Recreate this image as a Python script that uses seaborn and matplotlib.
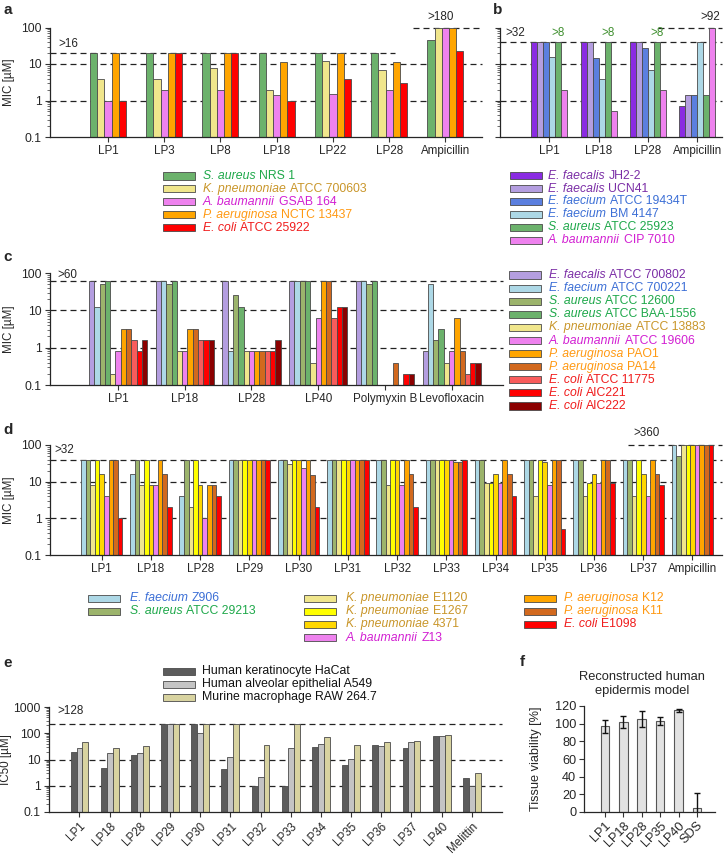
import numpy as np
import pandas as pd
import matplotlib
matplotlib.use("Agg")
import matplotlib.pyplot as plt
import seaborn as sns
from matplotlib.patches import Rectangle
from matplotlib.ticker import LogLocator, NullFormatter

nan = np.nan

# ---- panel a data (MIC, uM)
a_compounds = ["LP1", "LP3", "LP8", "LP18", "LP22", "LP28", "Ampicillin"]
a_strains = ["S. aureus NRS 1", "K. pneumoniae ATCC 700603", "A. baumannii GSAB 164",
             "P. aeruginosa NCTC 13437", "E. coli ATCC 25922"]
a_nrs1 = [20, 20, 20, 20, 20, 20, 45]
a_700603 = [4, 4, 8, 2, 12, 7, 100]
a_gsab164 = [1, 2, 2, 1.4, 1.5, 2, 100]
a_nctc13437 = [20, 20, 20, 11, 20, 11, 100]
a_25922 = [1, 20, 20, 1, 4, 3, 23]

# ---- panel b data
b_compounds = ["LP1", "LP18", "LP28", "Ampicillin"]
b_strains = ["E. faecalis JH2-2", "E. faecalis UCN41", "E. faecium ATCC 19434T",
             "E. faecium BM 4147", "S. aureus ATCC 25923", "A. baumannii CIP 7010"]
b_jh22 = [40, 40, 40, 0.7]
b_ucn41 = [40, 40, 40, 1.4]
b_19434t = [40, 15, 28, 1.4]
b_bm4147 = [16, 4, 7, 40]
b_25923 = [40, 40, 40, 1.4]
b_cip7010 = [2, 0.5, 2, 100]

# ---- panel c data
c_compounds = ["LP1", "LP18", "LP28", "LP40", "Polymyxin B", "Levofloxacin"]
c_strains = ["E. faecalis ATCC 700802", "E. faecium ATCC 700221", "S. aureus ATCC 12600",
             "S. aureus ATCC BAA-1556", "K. pneumoniae ATCC 13883", "A. baumannii ATCC 19606",
             "P. aeruginosa PAO1", "P. aeruginosa PA14", "E. coli ATCC 11775",
             "E. coli AIC221", "E. coli AIC222"]
c_700802 = [60, 60, 60, 60, 60, 0.8]
c_700221 = [12.5, 60, 0.8, 60, 60, 50]
c_12600 = [50, 50, 25, 60, 50, 1.6]
c_baa1556 = [60, 60, 12.5, 60, 60, 3.1]
c_13883 = [0.2, 0.8, 0.8, 0.4, nan, 0.4]
c_19606 = [0.8, 0.8, 0.8, 6.3, nan, 0.8]
c_pao1 = [3.1, 3.1, 0.8, 60, nan, 6.3]
c_pa14 = [3.1, 3.1, 0.8, 60, 0.4, 0.8]
c_11775 = [1.6, 1.6, 0.8, 6.3, nan, 0.2]
c_aic221 = [0.8, 1.6, 0.8, 12.5, 0.2, 0.4]
c_aic222 = [1.6, 1.6, 1.6, 12.5, 0.2, 0.4]

# ---- panel d data
d_compounds = ["LP1", "LP18", "LP28", "LP29", "LP30", "LP31", "LP32", "LP33", "LP34",
               "LP35", "LP36", "LP37", "Ampicillin"]
d_strains = ["E. faecium Z906", "S. aureus ATCC 29213", "K. pneumoniae E1120",
             "K. pneumoniae E1267", "K. pneumoniae 4371", "A. baumannii Z13",
             "P. aeruginosa K12", "P. aeruginosa K11", "E. coli E1098"]
d_z906 = [40, 16, 4, 40, 40, 40, 40, 40, 40, 40, 40, 40, 100]
d_29213 = [40, 40, 40, 40, 40, 40, 40, 40, 40, 40, 40, 40, 50]
d_e1120 = [8, 8, 2, 40, 30, 40, 8, 40, 9, 4, 4, 4, 100]
d_e1267 = [40, 40, 40, 40, 40, 40, 40, 40, 9, 40, 9, 40, 100]
d_4371 = [16, 8, 8, 40, 40, 40, 40, 40, 16, 34, 16, 16, 100]
d_z13 = [4, 8, 1, 40, 23, 40, 8, 40, 9, 8, 9, 4, 100]
d_k12 = [40, 40, 8, 40, 40, 40, 40, 34, 40, 40, 40, 40, 100]
d_k11 = [40, 16, 8, 40, 15, 40, 16, 34, 16, 40, 40, 16, 100]
d_e1098 = [1, 2, 4, 40, 2, 40, 2, 40, 4, 0.5, 9, 8, 100]

# ---- panel e data (IC50, uM)
e_compounds = ["LP1", "LP18", "LP28", "LP29", "LP30", "LP31", "LP32", "LP33", "LP34",
               "LP35", "LP36", "LP37", "LP40", "Melittin"]
e_cells = ["Human keratinocyte HaCat", "Human alveolar epithelial A549",
           "Murine macrophage RAW 264.7"]
e_hacat = [19, 4.8, 15.5, 230, 230, 4.3, 1, 1, 30, 6.4, 37, 28, 77, 2]
e_a549 = [27, 17, 18, 230, 100, 12, 2.1, 28, 39, 10.6, 34, 48, 82, 1]
e_raw = [45, 27, 32, 230, 230, 230, 37, 230, 74, 37, 48, 52, 89, 3]

# ---- panel f data (tissue viability %)
f_samples = ["LP1", "LP18", "LP28", "LP35", "LP40", "SDS"]
f_mean = [97, 102, 105, 103, 115, 5]
f_sd = [7, 7, 9, 5, 2, 16]

# ---- colours
bar_colors = {
    "S. aureus NRS 1": "#6cb26c", "K. pneumoniae ATCC 700603": "#f0e68c",
    "A. baumannii GSAB 164": "#ee82ee", "P. aeruginosa NCTC 13437": "#ffa500",
    "E. coli ATCC 25922": "#ff0000",
    "E. faecalis JH2-2": "#8a2be2", "E. faecalis UCN41": "#b49ee0",
    "E. faecium ATCC 19434T": "#5b7fdf", "E. faecium BM 4147": "#add8e6",
    "S. aureus ATCC 25923": "#6cb26c", "A. baumannii CIP 7010": "#ee82ee",
    "E. faecalis ATCC 700802": "#b49ee0", "E. faecium ATCC 700221": "#add8e6",
    "S. aureus ATCC 12600": "#9cb46c", "S. aureus ATCC BAA-1556": "#6cb26c",
    "K. pneumoniae ATCC 13883": "#f0e68c", "A. baumannii ATCC 19606": "#ee82ee",
    "P. aeruginosa PAO1": "#ffa500", "P. aeruginosa PA14": "#d2691e",
    "E. coli ATCC 11775": "#f85c5c", "E. coli AIC221": "#ff0000",
    "E. coli AIC222": "#8b0000",
    "E. faecium Z906": "#add8e6", "S. aureus ATCC 29213": "#9cb46c",
    "K. pneumoniae E1120": "#f0e68c", "K. pneumoniae E1267": "#ffff00",
    "K. pneumoniae 4371": "#ffd700", "A. baumannii Z13": "#ee82ee",
    "P. aeruginosa K12": "#ffa500", "P. aeruginosa K11": "#d2691e",
    "E. coli E1098": "#ff0000",
    "Human keratinocyte HaCat": "#5c5c5c", "Human alveolar epithelial A549": "#c4c4c4",
    "Murine macrophage RAW 264.7": "#d8d3a0",
}
species_colors = {"S. aureus": "#1ea84a", "K. pneumoniae": "#c9962a",
                  "A. baumannii": "#d21fd2", "P. aeruginosa": "#ff9912",
                  "E. coli": "#f01c1c", "E. faecalis": "#7b2ea6",
                  "E. faecium": "#3c6fd6"}

sns.set_style("ticks")
plt.rcParams["font.family"] = ["Liberation Sans", "DejaVu Sans"]
plt.rcParams["axes.linewidth"] = 0.9

W, H = 724, 856
FS = 8.4
LFS = 8.8
fig = plt.figure(figsize=(W / 100, H / 100), dpi=100)
renderer = fig.canvas.get_renderer()


def add_ax(l, t, r, b):
    return fig.add_axes([l / W, 1 - b / H, (r - l) / W, (b - t) / H])


def ftext(x, y, s, **kw):
    kw.setdefault("fontsize", FS)
    kw.setdefault("va", "center")
    return fig.text(x / W, 1 - y / H, s, **kw)


def ylabel_at(ax, text, xpx, size=FS):
    # put the y label centre at a given figure pixel column
    l, b, w, h = ax.get_position().bounds
    ax.set_ylabel(text, fontsize=size)
    ax.yaxis.set_label_coords((xpx / W - l) / w, 0.5)


def long_df(compounds, strains, series):
    rows = []
    for s, vals in zip(strains, series):
        for c, v in zip(compounds, vals):
            if not np.isnan(v):
                rows.append({"compound": c, "strain": s, "value": v})
    return pd.DataFrame(rows)


def bars(ax, df, compounds, strains, width):
    sns.barplot(data=df, x="compound", y="value", hue="strain", order=compounds,
                hue_order=strains, palette=bar_colors, width=width, saturation=1,
                edgecolor="#4a4a4a", linewidth=0.6, errorbar=None, legend=False, ax=ax)
    ax.set_yscale("log")


def style_log(ax, xlim, ymax=100, labels=True):
    ticks = [0.1, 1, 10, 100, 1000]
    ticks = [t for t in ticks if t <= ymax]
    ax.set_ylim(0.1, ymax)
    ax.set_yticks(ticks)
    if labels:
        ax.set_yticklabels([("%g" % t) for t in ticks])
    else:
        ax.set_yticklabels([])
    ax.yaxis.set_minor_locator(LogLocator(base=10, subs=np.arange(2, 10)))
    ax.yaxis.set_minor_formatter(NullFormatter())
    ax.set_xlim(*xlim)
    ax.set_xlabel("")
    ax.set_ylabel("")
    sns.despine(ax=ax)
    ax.tick_params(axis="both", which="major", labelsize=FS + 0.3, length=3.5, width=0.8,
                   color="#333333", pad=2.5)
    ax.tick_params(axis="x", labelsize=FS)
    ax.tick_params(axis="y", which="minor", length=2, width=0.5, color="#333333")


def dline(ax, y, x0=None, x1=None):
    lo, hi = ax.get_xlim()
    ax.hlines(y, lo if x0 is None else x0, hi if x1 is None else x1, colors="#222222",
              linestyles=(0, (4.8, 3.2)), lw=0.9, clip_on=False, zorder=0.8)


def legend(strains, x_patch, x_text, y0, dy, colored=True):
    for i, s in enumerate(strains):
        y = y0 + i * dy
        fig.patches.append(Rectangle((x_patch / W, 1 - (y + 3.5) / H), 32 / W, 7 / H,
                                     transform=fig.transFigure, facecolor=bar_colors[s],
                                     edgecolor="#4a4a4a", lw=0.6))
        if colored:
            words = s.split(" ")
            sp = " ".join(words[:2])
            col = species_colors[sp]
            t = ftext(x_text, y, sp, color=col, fontsize=LFS, style="italic")
            x_end = t.get_window_extent(renderer).x1
            ftext(x_end + 3.8, y, " ".join(words[2:]), color=col, fontsize=LFS)
        else:
            ftext(x_text, y, s, color="#111111", fontsize=LFS)


# ================= panel a
ax = add_ax(50, 27.5, 482, 137)
bars(ax, long_df(a_compounds, a_strains, [a_nrs1, a_700603, a_gsab164, a_nctc13437, a_25922]),
     a_compounds, a_strains, 0.64)
style_log(ax, (-1.03, 6.65))
ylabel_at(ax, "MIC [µM]", 15)
dline(ax, 20, x1=5.1)
dline(ax, 10)
dline(ax, 1)
dline(ax, 100, x0=5.43)
ftext(58, 44, ">16")
ftext(427, 17, ">180")
legend(a_strains, 163, 203, 176, 12.9)

# ================= panel b
ax = add_ax(500, 27.5, 722, 137)
bars(ax, long_df(b_compounds, b_strains, [b_jh22, b_ucn41, b_19434t, b_bm4147, b_25923, b_cip7010]),
     b_compounds, b_strains, 0.73)
style_log(ax, (-1.0, 3.5), labels=False)
dline(ax, 40)
dline(ax, 10)
dline(ax, 1)
dline(ax, 100, x0=2.2)
ftext(505, 33, ">32")
for xp in [558, 608, 657]:
    ftext(xp, 33, ">8", ha="center", color="#3f8f2f")
ftext(700, 17, ">92")
legend(b_strains, 510, 548, 175.7, 12.9)

# ================= panel c
ax = add_ax(50, 273, 503, 385)
bars(ax, long_df(c_compounds, c_strains,
                 [c_700802, c_700221, c_12600, c_baa1556, c_13883, c_19606,
                  c_pao1, c_pa14, c_11775, c_aic221, c_aic222]),
     c_compounds, c_strains, 0.87)
style_log(ax, (-1.02, 5.77))
ylabel_at(ax, "MIC [µM]", 15)
dline(ax, 60)
dline(ax, 10)
dline(ax, 1)
ftext(57, 275, ">60")
legend(c_strains, 509, 549, 275, 13.1)

# ================= panel d
ax = add_ax(50, 445, 722, 555)
bars(ax, long_df(d_compounds, d_strains,
                 [d_z906, d_29213, d_e1120, d_e1267, d_4371, d_z13, d_k12, d_k11, d_e1098]),
     d_compounds, d_strains, 0.84)
style_log(ax, (-1.05, 12.6))
ylabel_at(ax, "MIC [µM]", 15)
dline(ax, 40)
dline(ax, 10)
dline(ax, 1)
dline(ax, 100, x0=10.7)
ftext(54, 450, ">32")
ftext(633, 433, ">360")
legend(d_strains[:2], 88, 130, 598, 13.2)
legend(d_strains[2:6], 304, 346, 598, 13.2)
legend(d_strains[6:], 524, 564, 598, 13.2)

# ================= panel e
ax = add_ax(49, 707, 502, 812)
bars(ax, long_df(e_compounds, e_cells, [e_hacat, e_a549, e_raw]), e_compounds, e_cells, 0.59)
style_log(ax, (-1.01, 14.0), ymax=1000)
ylabel_at(ax, "IC50 [µM]", 12)
plt.setp(ax.get_xticklabels(), rotation=45, ha="right", rotation_mode="anchor")
dline(ax, 230)
dline(ax, 10)
dline(ax, 1)
ftext(57, 711, ">128")
legend(e_cells, 163, 202, 671, 13.2, colored=False)

# ================= panel f
ax = add_ax(584, 706, 715, 812)
sns.barplot(x=f_samples, y=f_mean, color="#e2e2e2", edgecolor="#555555", linewidth=0.8,
            width=0.47, saturation=1, ax=ax)
ax.errorbar(range(len(f_samples)), f_mean, yerr=f_sd, fmt="none", ecolor="#111111",
            elinewidth=1, capsize=2.2, capthick=1)
ax.set_ylim(0, 120)
ax.set_yticks(range(0, 121, 20))
ax.set_xlim(-1.14, 5.98)
sns.despine(ax=ax)
ax.tick_params(axis="both", labelsize=FS + 0.8, length=3.5, width=0.8, color="#333333", pad=2)
plt.setp(ax.get_xticklabels(), rotation=45, ha="right", rotation_mode="anchor")
ylabel_at(ax, "Tissue viability [%]", 542, size=FS + 0.8)
ftext(642, 684, "Reconstructed human\nepidermis model", ha="center", fontsize=9.3,
      linespacing=1.15)

# panel letters
for lab, x, y in [("a", 3, 10), ("b", 493, 10), ("c", 3, 257), ("d", 3, 430),
                  ("e", 3, 663), ("f", 520, 662)]:
    ftext(x, y, lab, fontsize=11, fontweight="bold")

fig.savefig("out.png", dpi=100)
